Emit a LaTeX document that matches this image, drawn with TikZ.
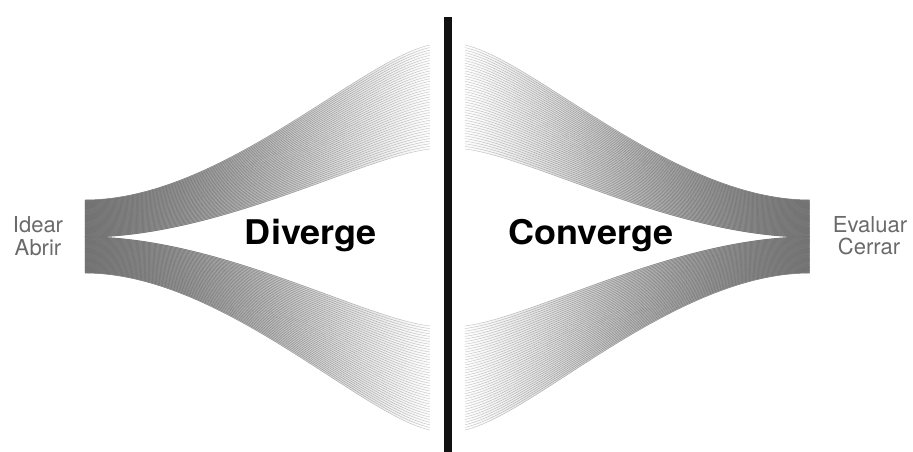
\documentclass[tikz,border=0pt]{standalone}
\usepackage{fontspec}
\setmainfont{TeX Gyre Heros}
\usetikzlibrary{fadings}
\definecolor{labelgray}{HTML}{6A6A6A}
\definecolor{fangray}{HTML}{6E6E6E}
\definecolor{bandgray}{HTML}{7C7C7C}
\definecolor{barblack}{HTML}{111111}
\tikzfading[name=fadeeast, left color=transparent!0, middle color=transparent!15, right color=transparent!65]
\tikzfading[name=fadewest, left color=transparent!65, middle color=transparent!15, right color=transparent!0]
\tikzfading[name=bandeast, left color=transparent!0, middle color=transparent!55, right color=transparent!100]
\tikzfading[name=bandwest, left color=transparent!100, middle color=transparent!55, right color=transparent!0]
\tikzset{
  fanline/.style={draw=fangray, line width=0.5pt},
  bandfill/.style={fill=bandgray, draw=none},
  sidelabel/.style={text=labelgray, font=\fontsize{22}{23}\selectfont, anchor=base, inner sep=0pt},
  bigword/.style={text=black, font=\fontsize{34}{36}\selectfont\bfseries, anchor=base, inner sep=0pt, xscale=1.06}
}
\begin{document}
\begin{tikzpicture}[x=1pt,y=-1pt]
\useasboundingbox (0,0) rectangle (913,452);
% band underlays
\fill[bandfill, path fading=bandeast] (85,200) .. controls (220,200) and (360,60.5) .. (430,45) -- (430,149) .. controls (360,157.8) and (220,237.5) .. (85,237.5) -- cycle;
\fill[bandfill, path fading=bandeast] (85,236.5) .. controls (220,236.5) and (360,317.1) .. (430,326) -- (430,430) .. controls (360,414.3) and (220,273) .. (85,273) -- cycle;
\fill[bandfill, path fading=bandwest] (810,200) .. controls (675,200) and (535,60.5) .. (465,45) -- (465,149) .. controls (535,157.8) and (675,237.5) .. (810,237.5) -- cycle;
\fill[bandfill, path fading=bandwest] (810,236.5) .. controls (675,236.5) and (535,317.1) .. (465,326) -- (465,430) .. controls (535,414.3) and (675,273) .. (810,273) -- cycle;
% left fan (diverge)
\foreach \i in {0,...,40}{
  \pgfmathsetmacro{\ya}{200+37*\i/40}
  \pgfmathsetmacro{\yb}{45+104*\i/40}
  \pgfmathsetmacro{\yq}{\yb+0.1*(\ya-\yb)}
  \draw[fanline, path fading=fadeeast] (85,\ya) .. controls (220,\ya) and (360,\yq) .. (430,\yb);
  \pgfmathsetmacro{\yc}{237+36*\i/40}
  \pgfmathsetmacro{\yd}{326+104*\i/40}
  \pgfmathsetmacro{\yr}{\yd+0.1*(\yc-\yd)}
  \draw[fanline, path fading=fadeeast] (85,\yc) .. controls (220,\yc) and (360,\yr) .. (430,\yd);
}
% right fan (converge)
\foreach \i in {0,...,40}{
  \pgfmathsetmacro{\ya}{200+37*\i/40}
  \pgfmathsetmacro{\yb}{45+104*\i/40}
  \pgfmathsetmacro{\yq}{\yb+0.1*(\ya-\yb)}
  \draw[fanline, path fading=fadewest] (810,\ya) .. controls (675,\ya) and (535,\yq) .. (465,\yb);
  \pgfmathsetmacro{\yc}{237+36*\i/40}
  \pgfmathsetmacro{\yd}{326+104*\i/40}
  \pgfmathsetmacro{\yr}{\yd+0.1*(\yc-\yd)}
  \draw[fanline, path fading=fadewest] (810,\yc) .. controls (675,\yc) and (535,\yr) .. (465,\yd);
}
% divider
\fill[barblack] (444,17) rectangle (452,452);
% labels
\node[sidelabel] (idear) at (38,232) {Idear};
\node[sidelabel] (abrir) at (38,255) {Abrir};
\node[sidelabel] (evaluar) at (870,232) {Evaluar};
\node[sidelabel] (cerrar) at (869,254) {Cerrar};
\node[bigword] (diverge) at (311,244) {Diverge};
\node[bigword] (converge) at (591,244) {Converge};
\end{tikzpicture}
\end{document}
